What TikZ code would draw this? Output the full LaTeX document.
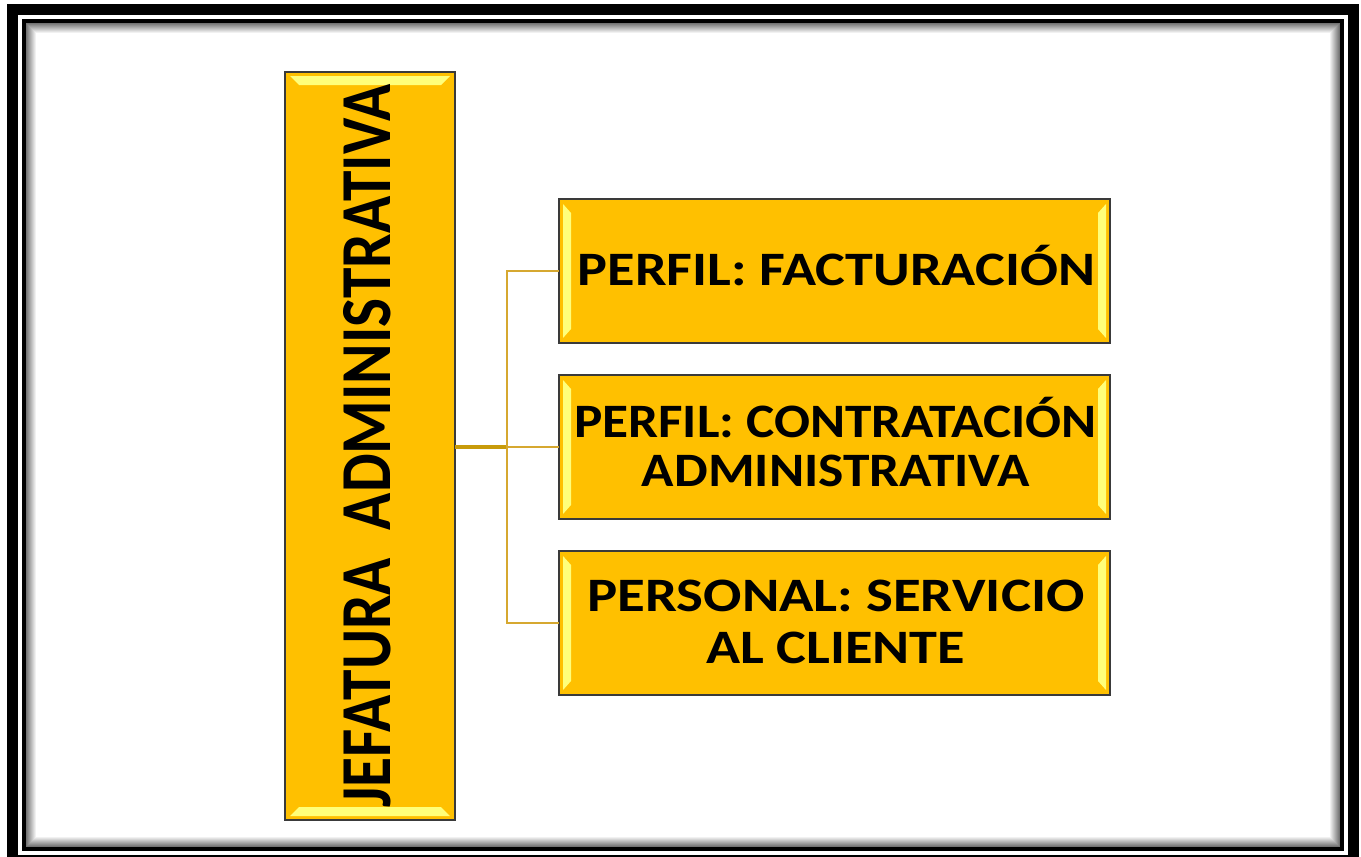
\documentclass[tikz,border=0pt]{standalone}
\usepackage{fontspec}
\setmainfont{Carlito}
\usetikzlibrary{calc}
\definecolor{boxfill}{HTML}{FFC000}
\definecolor{boxline}{HTML}{3A3A3A}
\definecolor{trunkcol}{HTML}{C89B0A}
\definecolor{branchcol}{HTML}{D6A830}
\definecolor{glow}{HTML}{FFFF7A}
\newcommand{\fitw}[2]{\resizebox{#1}{\height}{#2}}
\tikzset{
  orgbox/.style={draw=boxline, line width=1.1pt, fill=boxfill, inner sep=0pt, outer sep=0pt},
  childbox/.style={orgbox, minimum width=413.25pt, minimum height=108pt},
  childtext/.style={font=\fontsize{36}{40}\selectfont\bfseries, text=black, inner sep=0pt, anchor=base},
  trunk/.style={draw=trunkcol, line width=2.4pt},
  branch/.style={draw=branchcol, line width=1.2pt},
  glowstrip/.style={fill=glow, draw=none}
}
\begin{document}
\begin{tikzpicture}[x=0.75pt,y=-0.75pt]
\useasboundingbox (0,0) rectangle (1361,857);
\fill[white] (0,0) rectangle (1361,857);
% frame
\draw[black, line width=8.25pt] (12.5,9.5) rectangle (1353,860);
\draw[black, line width=3.2pt] (24,21) rectangle (1342,849);
\foreach \i in {0,...,9}{
  \pgfmathsetmacro{\g}{55-5.5*\i}
  \draw[black!\g, line width=0.8pt] (26.5+\i,23.5+\i) rectangle (1339.5-\i,846.5-\i);
}
% nodes
\node[orgbox, minimum width=127.5pt, minimum height=561pt] (root) at (370,446) {};
\node[childbox] (c1) at (834.5,271) {};
\node[childbox] (c2) at (834.5,447) {};
\node[childbox] (c3) at (834.5,623) {};
% bevel highlights
\fill[glowstrip] ($(root.north west)+(5,4)$) -- ($(root.north east)+(-5,4)$) -- ($(root.north east)+(-14,13)$) -- ($(root.north west)+(14,13)$) -- cycle;
\fill[glowstrip] ($(root.south west)+(5,-4)$) -- ($(root.south east)+(-5,-4)$) -- ($(root.south east)+(-14,-13)$) -- ($(root.south west)+(14,-13)$) -- cycle;
\foreach \c in {c1,c2,c3}{
  \fill[glowstrip] ($(\c.north west)+(4,5)$) -- ($(\c.south west)+(4,-5)$) -- ($(\c.south west)+(12,-14)$) -- ($(\c.north west)+(12,14)$) -- cycle;
  \fill[glowstrip] ($(\c.north east)+(-4,5)$) -- ($(\c.south east)+(-4,-5)$) -- ($(\c.south east)+(-12,-14)$) -- ($(\c.north east)+(-12,14)$) -- cycle;
}
% texts
\node[rotate=90, inner sep=0pt] (roottext) at (367,446) {\resizebox{542pt}{35.25pt}{\bfseries JEFATURA\ \ ADMINISTRATIVA}};
\node[childtext] (t1) at (836.5,285) {\fitw{387.75pt}{PERFIL: FACTURACIÓN}};
\node[childtext] (t2a) at (835.5,437) {\fitw{392.25pt}{PERFIL: CONTRATACIÓN}};
\node[childtext] (t2b) at (836,486) {\fitw{291pt}{ADMINISTRATIVA}};
\node[childtext] (t3a) at (836,611) {\fitw{372.75pt}{PERSONAL: SERVICIO}};
\node[childtext] (t3b) at (835.5,663) {\fitw{194.25pt}{AL CLIENTE}};
% connectors
\coordinate (j) at (507,447);
\draw[trunk] (root.east |- j) -- (j);
\draw[branch] (j) |- (c1.west);
\draw[branch] (j) -- (c2.west);
\draw[branch] (j) |- (c3.west);
\end{tikzpicture}
\end{document}
